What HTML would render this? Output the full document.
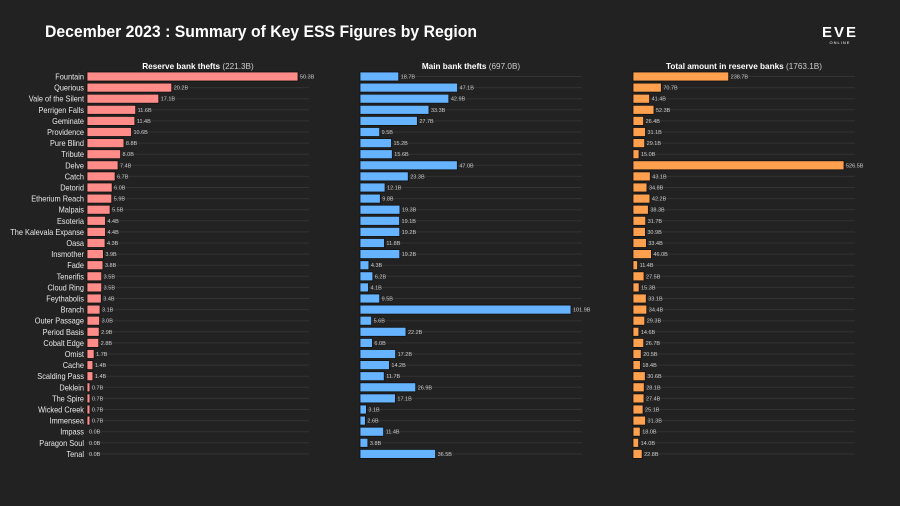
<!DOCTYPE html>
<html><head><meta charset="utf-8">
<style>
html,body{margin:0;padding:0;background:#222222;}
#wrap{position:relative;width:900px;height:506px;overflow:hidden;background:#222222;font-family:"Liberation Sans",sans-serif;}
svg text{font-family:"Liberation Sans",sans-serif;}
</style></head>
<body>
<div id="wrap">
<svg id="chart" width="900" height="506" xmlns="http://www.w3.org/2000/svg">
  <text x="45" y="37" font-size="17" font-weight="bold" fill="#ffffff" textLength="432" lengthAdjust="spacingAndGlyphs">December 2023 : Summary of Key ESS Figures by Region</text>
  <g>
    <text x="840" y="37" font-size="15" font-weight="bold" fill="#ffffff" text-anchor="middle" letter-spacing="2">EVE</text>
    <text x="840" y="44" font-size="4" fill="#ffffff" text-anchor="middle" letter-spacing="1">ONLINE</text>
  </g>
</svg>
</div>
<script>
const regions = ["Fountain","Querious","Vale of the Silent","Perrigen Falls","Geminate","Providence","Pure Blind","Tribute","Delve","Catch","Detorid","Etherium Reach","Malpais","Esoteria","The Kalevala Expanse","Oasa","Insmother","Fade","Tenerifis","Cloud Ring","Feythabolis","Branch","Outer Passage","Period Basis","Cobalt Edge","Omist","Cache","Scalding Pass","Deklein","The Spire","Wicked Creek","Immensea","Impass","Paragon Soul","Tenal"];
const reserveThefts = [50.3,20.2,17.1,11.6,11.4,10.6,8.8,8.0,7.4,6.7,6.0,5.9,5.5,4.4,4.4,4.3,3.9,3.8,3.5,3.5,3.4,3.1,3.0,2.9,2.8,1.7,1.4,1.4,0.7,0.7,0.7,0.7,0.0,0.0,0.0];
const mainThefts = [18.7,47.1,42.9,33.3,27.7,9.5,15.2,15.6,47.0,23.3,12.1,9.8,19.3,19.1,19.2,11.8,19.2,4.3,6.2,4.1,9.5,101.9,5.6,22.2,6.0,17.2,14.2,11.7,26.9,17.1,3.1,2.6,11.4,3.8,36.5];
const reserveTotals = [238.7,70.7,41.4,52.3,26.4,31.1,29.1,15.0,526.5,43.1,34.8,42.2,38.3,31.7,30.9,33.4,46.0,11.4,27.5,15.3,33.1,34.4,29.3,14.6,26.7,20.5,18.4,30.6,28.1,27.4,25.1,31.3,18.0,14.0,22.8];
const panelTitles = ["Reserve bank thefts","Main bank thefts","Total amount in reserve banks"];
const panelTotals = ["221.3B","697.0B","1763.1B"];

const NS="http://www.w3.org/2000/svg";
const svg=document.getElementById('chart');
const rowTop=72, rowStep=11.1, barH=9;
function yPos(i){return rowTop+i*rowStep;}
function mk(tag,attrs){const e=document.createElementNS(NS,tag);for(const k in attrs)e.setAttribute(k,attrs[k]);return e;}

const panels=[
 {x0:87, data:reserveThefts, color:"#ff8c88", name:"reserve-thefts"},
 {x0:360,data:mainThefts, color:"#66b3ff", name:"main-thefts"},
 {x0:633,data:reserveTotals, color:"#ffa04f", name:"reserve-totals"}
];

regions.forEach((r,i)=>{
  const t=mk('text',{x:84,y:yPos(i)+barH/2+3,'font-size':8.2,fill:'#e8e8e8','text-anchor':'end'});
  
  
  t.textContent=r;svg.appendChild(t);
  if(t.getComputedTextLength && r.length>0){
    const L=t.getComputedTextLength();
    t.setAttribute('textLength',(L*0.9).toFixed(1));
    t.setAttribute('lengthAdjust','spacingAndGlyphs');
  }
});

panels.forEach((p,pi)=>{
  const max=Math.max(...p.data);
  const xs=v=>p.x0+v/max*211;
  const g=mk('g',{});
  
  
  svg.appendChild(g);
  const tt=mk('text',{x:p.x0+111,y:69,'font-size':8.2,'text-anchor':'middle',fill:'#ffffff'});
  
  
  const b=mk('tspan',{'font-weight':'bold'});b.textContent=panelTitles[pi]+' ';
  const s=mk('tspan',{fill:'#cccccc'});s.textContent='('+panelTotals[pi]+')';
  tt.appendChild(b);tt.appendChild(s);g.appendChild(tt);
  p.data.forEach((v,i)=>{
    const cy=yPos(i)+barH/2;
    const gl=mk('line',{x1:p.x0,x2:p.x0+222,y1:cy,y2:cy,stroke:'#333333','stroke-width':1});
    
    
    g.appendChild(gl);
    const w=xs(v)-p.x0;
    if(w>0){
      const r=mk('rect',{x:p.x0,y:yPos(i),width:w,height:barH,fill:p.color,stroke:'#111111','stroke-width':0.8});
      
      
      g.appendChild(r);
    }
    const lt=mk('text',{x:xs(v)+2,y:cy+2,'font-size':5.5,fill:'#cccccc'});
    
    
    lt.textContent=v.toFixed(1)+'B';g.appendChild(lt);
  });
});
</script>
</body></html>
